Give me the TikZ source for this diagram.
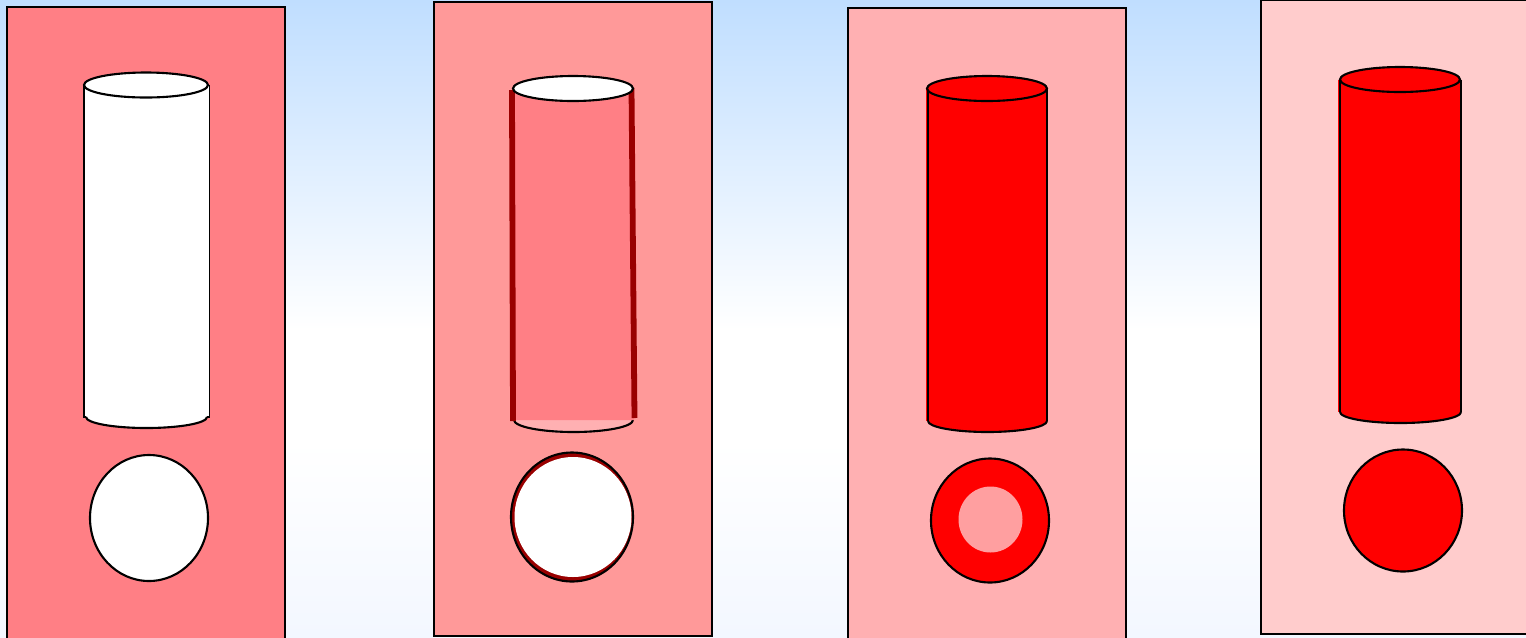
\documentclass[tikz,border=0pt]{standalone}
\usepackage{tikz}
\definecolor{skyblue}{HTML}{C0DEFF}
\definecolor{skypale}{HTML}{F3F7FF}
\definecolor{pinkA}{HTML}{FF7F85}
\definecolor{pinkB}{HTML}{FF9999}
\definecolor{pinkC}{HTML}{FFB0B2}
\definecolor{pinkD}{HTML}{FFCCCC}
\definecolor{pinkE}{HTML}{FF9FA0}
\definecolor{darkred}{HTML}{990000}
\tikzset{
 panel/.style={draw=black,line width=1.1pt},
 outline/.style={draw=black,line width=1.2pt},
 wall/.style={draw=darkred,line width=3.3pt}
}
\begin{document}
\begin{tikzpicture}[x=0.02cm,y=-0.02cm]
\useasboundingbox (0,0) rectangle (1526,637);
\clip (0,0) rectangle (1526,637);
\shade[top color=skyblue,bottom color=white] (0,0) rectangle (1526,330);
\fill[white] (0,330) rectangle (1526,440);
\shade[top color=white,bottom color=skypale] (0,440) rectangle (1526,637);
% panels
\draw[panel,fill=pinkA] (7,7) rectangle (285,650);
\draw[panel,fill=pinkB] (434,2) rectangle (712,636);
\draw[panel,fill=pinkC] (848,8) rectangle (1126,650);
\draw[panel,fill=pinkD] (1261,0.5) rectangle (1550,634);
% white tube
\fill[white] (84,85) rectangle (209.5,417);
\draw[outline,fill=white] (86,417) arc[start angle=180,end angle=0,x radius=60.5,y radius=11];
\draw[black,line width=0.8pt] (84,85)--(84,417)--(86,417);
\draw[black,line width=0.8pt] (209.5,85)--(209.5,417)--(207,417);
\draw[outline,fill=white] (146,85) ellipse[x radius=62,y radius=12.5];
\draw[outline,fill=white] (149,518) ellipse[x radius=59,y radius=63];
% half filled tube
\draw[outline,fill=pinkC] (514,420) arc[start angle=180,end angle=0,x radius=59.5,y radius=12];
\fill[pinkA] (512,89)--(632,89)--(634,420)--(513,420)--cycle;
\draw[wall] (512,90)--(513,421);
\draw[wall] (631.5,88)--(634.5,418);
\draw[outline,fill=white] (573,88.5) ellipse[x radius=60,y radius=12.5];
\draw[outline,fill=darkred] (572,517) ellipse[x radius=61,y radius=64.5];
\fill[white] (573,517) ellipse[x radius=58.5,y radius=60];
% full tube
\fill[red] (926,89) rectangle (1047,421);
\draw[outline,fill=red] (928,421) arc[start angle=180,end angle=0,x radius=59.5,y radius=11];
\draw[black,line width=0.8pt] (928,89)--(928,421);
\draw[black,line width=0.8pt] (1047,89)--(1047,421);
\draw[outline,fill=red] (987,88.5) ellipse[x radius=60,y radius=12.5];
\draw[outline,fill=red] (990,520.5) ellipse[x radius=59,y radius=62];
\fill[pinkE] (990.5,519.5) ellipse[x radius=32,y radius=33];
% full tube, no gap
\fill[red] (1338,80) rectangle (1461,412);
\draw[outline,fill=red] (1340,412) arc[start angle=180,end angle=0,x radius=60.5,y radius=11];
\draw[black,line width=0.8pt] (1340,80)--(1340,412);
\draw[black,line width=0.8pt] (1461,80)--(1461,412);
\draw[outline,fill=red] (1400,79.5) ellipse[x radius=60,y radius=12.5];
\draw[outline,fill=red] (1403,510.5) ellipse[x radius=59,y radius=61];
\end{tikzpicture}
\end{document}
